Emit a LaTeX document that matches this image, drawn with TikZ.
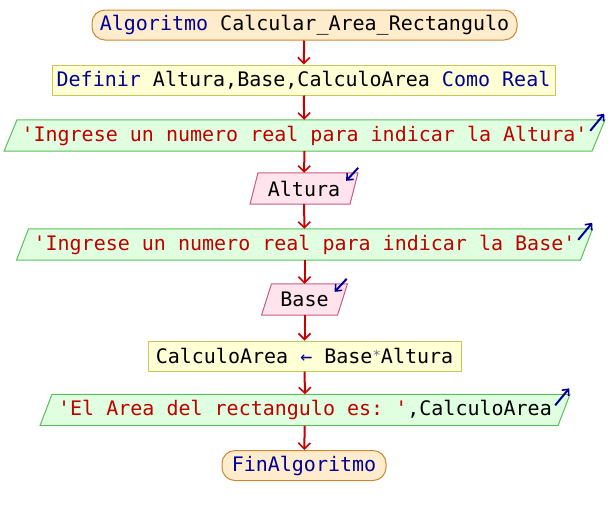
\documentclass[tikz,border=0pt]{standalone}
\usepackage{fontspec}
\setmonofont{DejaVu Sans Mono}
\usetikzlibrary{arrows.meta}
\definecolor{kw}{RGB}{0,0,150}
\definecolor{str}{RGB}{190,0,0}
\definecolor{flow}{RGB}{200,0,0}
\definecolor{termfill}{RGB}{255,236,204}
\definecolor{termdraw}{RGB}{205,135,50}
\definecolor{procfill}{RGB}{255,255,214}
\definecolor{procdraw}{RGB}{200,200,90}
\definecolor{outfill}{RGB}{224,255,224}
\definecolor{outdraw}{RGB}{90,190,90}
\definecolor{infill}{RGB}{255,228,238}
\definecolor{indraw}{RGB}{200,90,130}
\definecolor{opgray}{RGB}{110,110,140}
\tikzset{
  x=1pt,y=-1pt,
  every node/.style={font=\ttfamily\fontsize{20}{22}\selectfont, inner sep=0pt, anchor=center},
  termbox/.style={draw=termdraw, fill=termfill, rounded corners=13pt, line width=1pt, minimum height=30pt},
  procbox/.style={draw=procdraw, fill=procfill, line width=1pt, minimum height=30pt},
  iobox/.style={minimum height=31pt},
  outshape/.style={draw=outdraw, fill=outfill, line width=1pt},
  inshape/.style={draw=indraw, fill=infill, line width=1pt},
  flowarrow/.style={draw=flow, line width=2pt, -{Straight Barb[length=6pt,width=12pt,line width=1.6pt]}},
  iconarrow/.style={draw=kw, line width=2pt, -{Straight Barb[length=5pt,width=9pt,line width=1.6pt]}},
}
\newcommand{\para}[4]{% node, halfwidth, slant, style
  \draw[#4] ([xshift=-#2pt+#3pt]#1.north) -- ([xshift=#2pt+#3pt]#1.north) -- ([xshift=#2pt-#3pt]#1.south) -- ([xshift=-#2pt-#3pt]#1.south) -- cycle;}
\begin{document}
\begin{tikzpicture}
\useasboundingbox (0,0) rectangle (608,515);
% nodes
\node[termbox, minimum width=425pt] (start) at (304.5,25) {\textcolor{kw}{Algoritmo} Calcular\_Area\_Rectangulo};
\node[procbox, minimum width=503pt] (def) at (303.5,80) {\textcolor{kw}{Definir} Altura,Base,CalculoArea \textcolor{kw}{Como Real}};
\node[iobox, minimum width=588pt] (out1) at (304.5,135.5) {};
\node[iobox, minimum width=100pt] (in1) at (304,188.5) {};
\node[iobox, minimum width=564pt] (out2) at (304.5,244.5) {};
\node[iobox, minimum width=76pt] (in2) at (304.5,299.5) {};
\node[procbox, minimum width=313pt] (calc) at (304.5,356) {CalculoArea \textcolor{kw}{←} Base\raisebox{3pt}{\textcolor{opgray}{\fontsize{14}{14}\selectfont *}}Altura};
\node[iobox, minimum width=517pt] (out3) at (305,410) {};
\node[termbox, minimum width=164pt] (fin) at (304,465.5) {\textcolor{kw}{FinAlgoritmo}};
% parallelogram outlines
\para{out1}{294}{6.5}{outshape}
\para{in1}{50}{4}{inshape}
\para{out2}{282}{6}{outshape}
\para{in2}{38}{5}{inshape}
\para{out3}{259}{6}{outshape}
% texts
\node at (out1) {\textcolor{str}{'Ingrese un numero real para indicar la Altura'}};
\node at (in1) {Altura};
\node at (out2) {\textcolor{str}{'Ingrese un numero real para indicar la Base'}};
\node at (in2) {Base};
\node at (out3) {\textcolor{str}{'El Area del rectangulo es: '},CalculoArea};
% io icons
\draw[iconarrow] ([shift={(-8.5,11)}]out1.north east) -- ([shift={(5.5,-6)}]out1.north east);
\draw[iconarrow] ([shift={(4,-5)}]in1.north east) -- ([shift={(-8,8)}]in1.north east);
\draw[iconarrow] ([shift={(-8.5,11)}]out2.north east) -- ([shift={(5.5,-6)}]out2.north east);
\draw[iconarrow] ([shift={(4,-5)}]in2.north east) -- ([shift={(-8,8)}]in2.north east);
\draw[iconarrow] ([shift={(-8.5,11)}]out3.north east) -- ([shift={(5.5,-6)}]out3.north east);
% flow
\draw[flowarrow] (start) -- (def);
\draw[flowarrow] (def) -- (out1);
\draw[flowarrow] (out1) -- (in1);
\draw[flowarrow] (in1) -- (out2);
\draw[flowarrow] (out2) -- (in2);
\draw[flowarrow] (in2) -- (calc);
\draw[flowarrow] (calc) -- (out3);
\draw[flowarrow] (out3) -- (fin);
\end{tikzpicture}
\end{document}
